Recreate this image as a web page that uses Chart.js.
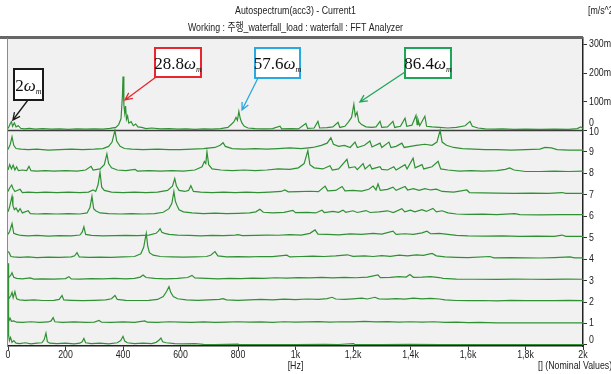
<!DOCTYPE html>
<html>
<head>
<meta charset="utf-8">
<script src="https://cdn.jsdelivr.net/npm/chart.js@4.4.1/dist/chart.umd.min.js"></script>
<style>
  html, body { margin: 0; padding: 0; background: #fff; }
</style>
</head>
<body>
<canvas id="waterfall" width="611" height="374"></canvas>
<script>
// eje de frecuencia
const freqTicks = [0, 200, 400, 600, 800, 1000, 1200, 1400, 1600, 1800, 2000];
const freqLabels = ['0', '200', '400', '600', '800', '1k', '1,2k', '1,4k', '1,6k', '1,8k', '2k'];

// filas del waterfall (0 = abajo) y ticks del panel superior (m/s^2 * 1e-3)
const rowLabels = ['0', '1', '2', '3', '4', '5', '6', '7', '8', '9', '10'];
const topTicks = [100, 200, 300];
const topTickLabels = ['100m', '200m', '300m'];

// espectro superior (Current1), [Hz, mili m/s^2]
const topTrace = [[0,6],[4,14],[8,24],[12,30],[16,14],[22,26],[28,12],[36,16],[44,7],[56,5],[75,7],[95,4],[120,6],[150,4],[180,5],[210,3],[240,5],[270,4],[300,5],[330,4],[355,7],[375,10],[385,20],[393,40],[398,120],[400,188],[403,90],[406,60],[409,85],[412,38],[416,50],[420,25],[428,30],[436,16],[444,22],[452,12],[465,10],[480,6],[500,8],[530,5],[560,6],[590,4],[620,5],[650,3],[680,5],[710,4],[740,6],[765,10],[778,22],[786,30],[793,45],[798,35],[803,66],[808,40],[814,25],[822,14],[835,8],[860,6],[890,5],[920,6],[946,14],[952,5],[985,6],[1010,5],[1036,24],[1042,7],[1065,8],[1078,31],[1084,8],[1110,9],[1130,12],[1148,28],[1154,10],[1172,14],[1185,30],[1195,45],[1203,91],[1208,50],[1214,63],[1220,30],[1230,20],[1245,12],[1265,10],[1280,12],[1294,31],[1300,10],[1320,12],[1339,31],[1345,10],[1365,14],[1381,42],[1387,14],[1405,18],[1419,52],[1423,20],[1426,38],[1432,16],[1450,49],[1456,14],[1475,12],[1500,10],[1530,8],[1560,10],[1590,16],[1607,31],[1615,14],[1635,8],[1660,5],[1690,4],[1720,5],[1760,3],[1800,4],[1850,3],[1900,4],[1950,3],[1980,6],[1992,12],[2000,6]];

// filas inferiores, [Hz, amplitud en filas]
const trace0 = [[0,3.8],[2,0.45],[5,0.2],[9,0.35],[14,0.12],[20,0.2],[28,0.08],[40,0.06],[60,0.1],[80,0.05],[100,0.08],[118,0.1],[126,0.25],[132,0.55],[137,0.15],[145,0.08],[170,0.06],[200,0.08],[230,0.05],[250,0.08],[258,0.15],[264,0.3],[270,0.1],[290,0.06],[320,0.08],[350,0.05],[380,0.1],[392,0.2],[400,0.4],[406,0.18],[415,0.1],[440,0.06],[470,0.08],[500,0.06],[515,0.12],[525,0.22],[532,0.32],[538,0.15],[550,0.1],[580,0.06],[610,0.05],[650,0.06],[680,0.03],[720,0.02],[800,0.04],[804,0.02],[900,0.02],[1000,0.02],[1100,0.03],[1150,0.02],[1202,0.06],[1206,0.02],[1300,0.02],[1400,0.03],[1500,0.02],[1600,0.02],[1800,0.02],[2000,0.02]];
const trace1 = [[0,0.05],[4,0.15],[7,0.25],[12,0.1],[20,0.12],[30,0.06],[50,0.05],[80,0.08],[110,0.05],[140,0.07],[150,0.12],[157,0.27],[163,0.08],[190,0.05],[230,0.07],[270,0.05],[300,0.06],[317,0.14],[325,0.06],[360,0.05],[400,0.07],[440,0.05],[476,0.12],[484,0.06],[520,0.05],[560,0.08],[600,0.06],[640,0.05],[680,0.07],[720,0.05],[760,0.06],[800,0.08],[840,0.06],[880,0.07],[920,0.05],[960,0.08],[1000,0.06],[1040,0.07],[1080,0.09],[1120,0.06],[1160,0.08],[1200,0.07],[1240,0.1],[1280,0.07],[1320,0.09],[1360,0.06],[1400,0.08],[1440,0.06],[1480,0.08],[1520,0.05],[1560,0.06],[1600,0.04],[1640,0.05],[1700,0.03],[1800,0.03],[1900,0.03],[2000,0.03]];
const trace2 = [[0,0.1],[5,0.2],[10,0.3],[14,0.45],[18,0.2],[24,0.48],[30,0.15],[40,0.1],[60,0.08],[90,0.1],[120,0.07],[160,0.08],[178,0.12],[188,0.3],[194,0.1],[220,0.08],[260,0.06],[300,0.08],[340,0.1],[360,0.15],[372,0.3],[380,0.12],[410,0.08],[450,0.07],[490,0.08],[520,0.12],[540,0.25],[552,0.5],[560,0.72],[566,0.45],[575,0.25],[590,0.15],[620,0.1],[660,0.08],[700,0.1],[735,0.12],[748,0.16],[760,0.1],[800,0.08],[840,0.1],[880,0.12],[920,0.1],[960,0.13],[1000,0.11],[1040,0.14],[1080,0.12],[1110,0.16],[1127,0.22],[1140,0.14],[1170,0.12],[1200,0.15],[1230,0.18],[1250,0.14],[1276,0.22],[1290,0.15],[1320,0.13],[1350,0.16],[1380,0.13],[1410,0.18],[1440,0.15],[1470,0.17],[1500,0.14],[1520,0.1],[1560,0.07],[1600,0.06],[1650,0.07],[1700,0.05],[1750,0.08],[1800,0.06],[1850,0.07],[1900,0.06],[1950,0.08],[2000,0.06]];
const trace3 = [[0,0.1],[5,0.18],[10,0.25],[14,0.36],[20,0.15],[30,0.1],[50,0.08],[77,0.12],[90,0.07],[120,0.08],[160,0.07],[200,0.09],[212,0.18],[220,0.08],[250,0.07],[290,0.09],[330,0.08],[370,0.1],[410,0.08],[440,0.1],[460,0.16],[470,0.26],[480,0.14],[510,0.1],[550,0.08],[590,0.1],[625,0.14],[640,0.24],[650,0.12],[690,0.1],[730,0.08],[770,0.1],[810,0.09],[850,0.11],[890,0.1],[930,0.13],[970,0.11],[1010,0.14],[1050,0.12],[1090,0.15],[1130,0.12],[1170,0.15],[1210,0.13],[1250,0.16],[1287,0.26],[1295,0.14],[1330,0.15],[1360,0.18],[1385,0.16],[1398,0.28],[1410,0.15],[1440,0.16],[1470,0.18],[1500,0.14],[1513,0.1],[1560,0.07],[1620,0.06],[1700,0.05],[1760,0.07],[1820,0.06],[1880,0.05],[1940,0.07],[2000,0.06]];
const trace4 = [[0,0.35],[4,0.3],[10,0.12],[20,0.1],[40,0.08],[70,0.1],[100,0.07],[140,0.09],[180,0.08],[220,0.1],[232,0.15],[240,0.3],[248,0.1],[280,0.08],[320,0.09],[360,0.08],[400,0.1],[440,0.12],[462,0.25],[472,0.55],[478,1.0],[481,1.2],[486,0.6],[492,0.3],[505,0.18],[530,0.12],[570,0.1],[610,0.09],[650,0.1],[690,0.12],[705,0.18],[720,0.35],[730,0.15],[760,0.1],[800,0.11],[840,0.1],[880,0.12],[920,0.11],[970,0.18],[980,0.1],[1020,0.12],[1060,0.14],[1100,0.12],[1140,0.15],[1180,0.2],[1200,0.13],[1240,0.15],[1270,0.12],[1300,0.16],[1330,0.13],[1360,0.18],[1390,0.15],[1420,0.2],[1445,0.17],[1475,0.26],[1490,0.15],[1520,0.1],[1560,0.08],[1600,0.07],[1676,0.12],[1690,0.06],[1750,0.07],[1800,0.06],[1850,0.05],[1900,0.07],[1955,0.1],[1970,0.06],[2000,0.06]];
const trace5 = [[0,0.15],[6,0.3],[14,0.65],[20,0.2],[30,0.15],[45,0.1],[70,0.08],[100,0.1],[140,0.07],[180,0.09],[220,0.08],[250,0.12],[258,0.25],[264,0.5],[270,0.15],[290,0.1],[330,0.08],[370,0.09],[410,0.1],[450,0.09],[490,0.12],[515,0.2],[523,0.3],[529,0.42],[535,0.25],[545,0.2],[560,0.15],[590,0.12],[630,0.1],[670,0.08],[710,0.1],[750,0.09],[790,0.12],[800,0.14],[815,0.09],[860,0.1],[900,0.12],[940,0.11],[980,0.14],[1020,0.12],[1050,0.2],[1068,0.36],[1078,0.16],[1110,0.15],[1150,0.13],[1190,0.17],[1230,0.15],[1270,0.2],[1300,0.16],[1339,0.3],[1350,0.15],[1380,0.18],[1410,0.15],[1440,0.22],[1457,0.3],[1470,0.18],[1500,0.2],[1530,0.15],[1560,0.1],[1600,0.08],[1660,0.07],[1720,0.08],[1780,0.06],[1840,0.07],[1900,0.06],[1927,0.12],[1940,0.06],[2000,0.06]];
const trace6 = [[0,0.2],[5,0.4],[10,0.7],[14,0.92],[17,0.5],[22,0.3],[28,0.38],[35,0.2],[42,0.35],[50,0.15],[70,0.25],[78,0.12],[100,0.1],[130,0.12],[170,0.1],[210,0.12],[250,0.1],[275,0.15],[285,0.4],[292,0.92],[298,0.35],[305,0.25],[320,0.15],[350,0.12],[390,0.1],[430,0.12],[470,0.1],[510,0.12],[540,0.18],[560,0.35],[570,0.6],[577,1.15],[582,0.7],[588,0.5],[595,0.3],[610,0.2],[640,0.15],[680,0.12],[720,0.14],[760,0.12],[800,0.13],[840,0.15],[862,0.2],[876,0.32],[888,0.18],[920,0.15],[960,0.18],[991,0.27],[1000,0.16],[1040,0.18],[1070,0.15],[1092,0.28],[1100,0.17],[1130,0.22],[1150,0.18],[1165,0.28],[1175,0.18],[1200,0.25],[1215,0.17],[1245,0.26],[1260,0.17],[1290,0.2],[1320,0.25],[1340,0.17],[1370,0.35],[1380,0.2],[1400,0.28],[1415,0.2],[1440,0.3],[1455,0.22],[1478,0.36],[1490,0.2],[1510,0.25],[1530,0.15],[1560,0.1],[1600,0.08],[1650,0.09],[1700,0.07],[1763,0.12],[1780,0.07],[1850,0.06],[1920,0.07],[2000,0.07]];
const trace7 = [[0,0.15],[5,0.3],[13,0.45],[17,0.3],[24,0.15],[42,0.25],[50,0.1],[70,0.12],[100,0.1],[130,0.12],[170,0.1],[210,0.12],[250,0.1],[280,0.12],[296,0.22],[305,0.15],[313,0.45],[320,1.05],[326,0.35],[335,0.2],[360,0.12],[400,0.1],[440,0.12],[480,0.1],[520,0.12],[555,0.2],[572,0.4],[580,0.75],[586,0.4],[595,0.2],[615,0.15],[628,0.2],[636,0.42],[645,0.15],[670,0.12],[710,0.1],[750,0.12],[790,0.1],[830,0.12],[870,0.1],[910,0.12],[950,0.15],[963,0.22],[975,0.13],[1010,0.14],[1050,0.16],[1080,0.14],[1103,0.4],[1112,0.18],[1140,0.2],[1162,0.38],[1172,0.18],[1200,0.2],[1230,0.17],[1255,0.25],[1270,0.4],[1280,0.22],[1287,0.5],[1295,0.2],[1320,0.25],[1339,0.35],[1350,0.2],[1381,0.38],[1390,0.22],[1410,0.28],[1430,0.2],[1450,0.28],[1470,0.22],[1490,0.26],[1510,0.15],[1550,0.12],[1596,0.22],[1605,0.1],[1650,0.08],[1700,0.07],[1760,0.06],[1820,0.07],[1880,0.06],[1927,0.1],[1940,0.06],[2000,0.06]];
const trace8 = [[0,0.15],[6,0.4],[12,0.2],[18,0.38],[24,0.15],[30,0.3],[36,0.12],[50,0.15],[65,0.12],[73,0.32],[80,0.12],[100,0.1],[130,0.12],[160,0.1],[200,0.12],[240,0.1],[270,0.15],[289,0.32],[296,0.15],[320,0.2],[335,0.4],[344,0.9],[350,0.45],[360,0.25],[380,0.15],[410,0.12],[442,0.18],[450,0.1],[490,0.12],[530,0.1],[570,0.12],[610,0.1],[650,0.15],[675,0.3],[683,0.55],[688,0.45],[692,1.0],[698,0.4],[710,0.2],[740,0.15],[780,0.12],[820,0.15],[860,0.12],[900,0.15],[940,0.2],[980,0.18],[1010,0.25],[1030,0.45],[1043,1.05],[1050,0.4],[1065,0.25],[1095,0.2],[1120,0.35],[1128,0.15],[1150,0.2],[1179,0.65],[1186,0.25],[1207,0.3],[1215,0.17],[1235,0.45],[1242,0.2],[1259,0.4],[1266,0.2],[1294,0.3],[1300,0.18],[1320,0.15],[1342,0.3],[1350,0.15],[1381,0.4],[1388,0.2],[1409,0.7],[1416,0.25],[1440,0.4],[1446,0.2],[1475,0.3],[1496,0.55],[1505,0.2],[1530,0.15],[1570,0.1],[1610,0.12],[1650,0.1],[1700,0.12],[1730,0.18],[1745,0.25],[1760,0.15],[1800,0.08],[1850,0.08],[1900,0.1],[1950,0.08],[2000,0.1]];
const trace9 = [[0,0.1],[8,0.35],[14,0.7],[20,0.3],[28,0.15],[45,0.12],[70,0.1],[100,0.12],[140,0.08],[180,0.1],[220,0.12],[260,0.1],[300,0.12],[330,0.15],[350,0.25],[362,0.45],[372,1.0],[378,0.5],[390,0.25],[405,0.15],[430,0.12],[470,0.1],[520,0.12],[560,0.1],[600,0.1],[640,0.12],[680,0.15],[720,0.2],[738,0.3],[748,0.42],[756,0.25],[780,0.15],[820,0.12],[860,0.15],[900,0.12],[940,0.15],[980,0.18],[1020,0.15],[1060,0.2],[1090,0.3],[1110,0.4],[1123,0.65],[1132,0.35],[1150,0.25],[1170,0.3],[1190,0.2],[1207,0.45],[1215,0.2],[1240,0.3],[1259,0.5],[1266,0.22],[1294,0.4],[1300,0.2],[1325,0.45],[1332,0.2],[1350,0.25],[1370,0.4],[1378,0.2],[1400,0.25],[1420,0.3],[1450,0.35],[1475,0.3],[1492,0.45],[1503,1.0],[1510,0.45],[1525,0.3],[1550,0.2],[1580,0.15],[1620,0.12],[1660,0.1],[1700,0.1],[1750,0.08],[1800,0.1],[1850,0.12],[1868,0.2],[1890,0.18],[1910,0.1],[1950,0.08],[2000,0.08]];

// anotaciones: orden armonico y punta de la flecha (Hz, mili m/s^2)
const annotText = ['2', '28.8', '57.6', '86.4'];
const annotHz = [17, 407, 814, 1224];
const annotVal = [36, 106, 71, 99];

const rows = [trace0, trace1, trace2, trace3, trace4, trace5, trace6, trace7, trace8, trace9];
const mPerRow = 75; // 300m ocupa 4 filas
const LINE = '#2f9133';
const FONT = "'Liberation Sans', 'Noto Sans CJK KR', sans-serif";
const SERIF = "'Liberation Serif', 'DejaVu Serif', serif";
const NARROW = 0.8; // la fuente original es estrecha

// estilo de las cajas (px)
const boxStyle = [
    { x: 14, y: 69, w: 29, h: 31, color: '#1a1a1a', tx: 28, ty: 100 },
    { x: 155, y: 48, w: 46, h: 29, color: '#e8262d', tx: 156, ty: 77 },
    { x: 255, y: 48, w: 45, h: 30, color: '#2aa8e0', tx: 258, ty: 78 },
    { x: 405, y: 48, w: 46, h: 30, color: '#1fa55a', tx: 405, ty: 72 }
];

const datasets = rows.map((pts, k) => ({
    data: pts.map(p => ({ x: p[0], y: k + p[1] })),
    borderColor: LINE,
    borderWidth: 1.2,
    pointRadius: 0,
    tension: 0
}));
datasets.push({
    data: topTrace.map(p => ({ x: p[0], y: 10 + p[1] / mPerRow })),
    borderColor: LINE,
    borderWidth: 1.2,
    pointRadius: 0,
    tension: 0
});

// texto estrecho
function narrowText(ctx, text, x, y, align) {
    ctx.save();
    ctx.translate(x, y);
    ctx.scale(NARROW, 1);
    ctx.textAlign = align;
    ctx.fillText(text, 0, 0);
    ctx.restore();
}

function drawArrow(ctx, x1, y1, x2, y2, color) {
    const a = Math.atan2(y2 - y1, x2 - x1);
    ctx.save();
    ctx.strokeStyle = color;
    ctx.lineWidth = 1.3;
    ctx.beginPath();
    ctx.moveTo(x1, y1);
    ctx.lineTo(x2, y2);
    ctx.moveTo(x2 - 8 * Math.cos(a - 0.45), y2 - 8 * Math.sin(a - 0.45));
    ctx.lineTo(x2, y2);
    ctx.lineTo(x2 - 8 * Math.cos(a + 0.45), y2 - 8 * Math.sin(a + 0.45));
    ctx.stroke();
    ctx.restore();
}

const decor = {
    id: 'decor',
    beforeDraw(chart) {
        const { ctx, chartArea: a } = chart;
        ctx.save();
        ctx.fillStyle = '#f1f1f1';
        ctx.fillRect(a.left, a.top, a.right - a.left, a.bottom - a.top);
        ctx.restore();
    },
    beforeDatasetsDraw(chart) {
        // linea base del panel superior
        const { ctx, chartArea: a, scales } = chart;
        const y = Math.round(scales.y.getPixelForValue(10)) + 0.5;
        ctx.save();
        ctx.strokeStyle = '#3c3c3c';
        ctx.lineWidth = 1.5;
        ctx.beginPath();
        ctx.moveTo(a.left, y);
        ctx.lineTo(a.right, y);
        ctx.stroke();
        ctx.restore();
    },
    afterDraw(chart) {
        const { ctx, chartArea: a, scales } = chart;
        ctx.save();
        // bordes
        ctx.fillStyle = '#666';
        ctx.fillRect(0, a.top - 2, a.right, 3);
        ctx.strokeStyle = '#8a8a8a';
        ctx.lineWidth = 1;
        ctx.beginPath();
        ctx.moveTo(a.left - 0.5, a.top);
        ctx.lineTo(a.left - 0.5, a.bottom);
        ctx.stroke();

        // titulos y unidades
        const cx = (a.left + a.right) / 2;
        ctx.fillStyle = '#222';
        ctx.font = '11px ' + FONT;
        ctx.textBaseline = 'middle';
        narrowText(ctx, 'Autospectrum(acc3) - Current1', cx, 11, 'center');
        narrowText(ctx, 'Working : 주행_waterfall_load : waterfall : FFT Analyzer', cx, 28, 'center');
        narrowText(ctx, '[m/s^2]', 588, 11, 'left');
        narrowText(ctx, '[Hz]', cx, 366, 'center');
        narrowText(ctx, '[] (Nominal Values)', 538, 366, 'left');

        // etiquetas de los ejes
        ctx.font = '11px ' + FONT;
        scales.x.ticks.forEach((t, i) => {
            narrowText(ctx, freqLabels[freqTicks.indexOf(t.value)], scales.x.getPixelForTick(i), 355, 'center');
        });
        scales.y.ticks.forEach((t, i) => {
            const py = scales.y.getPixelForTick(i);
            const lx = a.right + 6;
            if (t.value === 10) {
                narrowText(ctx, '0', lx, py - 7, 'left');
                narrowText(ctx, '10', lx, py + 2, 'left');
            } else if (t.value < 10) {
                narrowText(ctx, rowLabels[t.value], lx, t.value === 0 ? py - 5 : py, 'left');
            } else {
                const k = topTicks.findIndex(v => Math.abs(10 + v / mPerRow - t.value) < 1e-6);
                narrowText(ctx, topTickLabels[k], lx, py, 'left');
            }
        });

        // cajas y flechas
        annotText.forEach((t, i) => {
            const b = boxStyle[i];
            const px = scales.x.getPixelForValue(annotHz[i]);
            const py = scales.y.getPixelForValue(10 + annotVal[i] / mPerRow);
            drawArrow(ctx, b.tx, b.ty, px, py, b.color);
            ctx.fillStyle = '#fff';
            ctx.fillRect(b.x, b.y, b.w, b.h);
            ctx.strokeStyle = b.color;
            ctx.lineWidth = 2;
            ctx.strokeRect(b.x, b.y, b.w, b.h);

            ctx.fillStyle = '#111';
            ctx.textAlign = 'left';
            ctx.textBaseline = 'alphabetic';
            ctx.font = '17px ' + SERIF;
            const w1 = ctx.measureText(t).width;
            ctx.font = 'italic 17px ' + SERIF;
            const w2 = ctx.measureText('\u03c9').width;
            ctx.font = 'italic 8px ' + SERIF;
            const w3 = ctx.measureText('m').width;
            let x = b.x + (b.w - (w1 + w2 + w3)) / 2;
            const base = b.y + b.h / 2 + 6;
            ctx.font = '17px ' + SERIF;
            ctx.fillText(t, x, base);
            x += w1;
            ctx.font = 'italic 17px ' + SERIF;
            ctx.fillText('\u03c9', x, base);
            x += w2;
            ctx.font = 'italic 8px ' + SERIF;
            ctx.fillText('m', x, base + 3);
        });
        ctx.restore();
    }
};

new Chart(document.getElementById('waterfall'), {
    type: 'line',
    data: { datasets: datasets },
    options: {
        responsive: false,
        animation: false,
        layout: { padding: { left: 8, top: 38, right: 0, bottom: 0 } },
        plugins: { legend: { display: false }, tooltip: { enabled: false } },
        scales: {
            x: {
                type: 'linear',
                min: 0,
                max: 2000,
                afterFit: s => { s.height = 28; },
                afterBuildTicks: s => { s.ticks = freqTicks.map(v => ({ value: v })); },
                ticks: { display: false, autoSkip: false },
                grid: { drawOnChartArea: false, tickLength: 4, color: '#333' },
                border: { color: '#222', width: 1.5 }
            },
            y: {
                type: 'linear',
                position: 'right',
                min: -0.05,
                max: 14.3,
                afterFit: s => { s.width = 28; },
                afterBuildTicks: s => {
                    s.ticks = rowLabels.map((_, i) => ({ value: i }))
                        .concat(topTicks.map(v => ({ value: 10 + v / mPerRow })));
                },
                ticks: { display: false, autoSkip: false },
                grid: { drawOnChartArea: false, tickLength: 4, color: '#333' },
                border: { color: '#222', width: 1.5 }
            }
        }
    },
    plugins: [decor]
});
</script>
</body>
</html>
